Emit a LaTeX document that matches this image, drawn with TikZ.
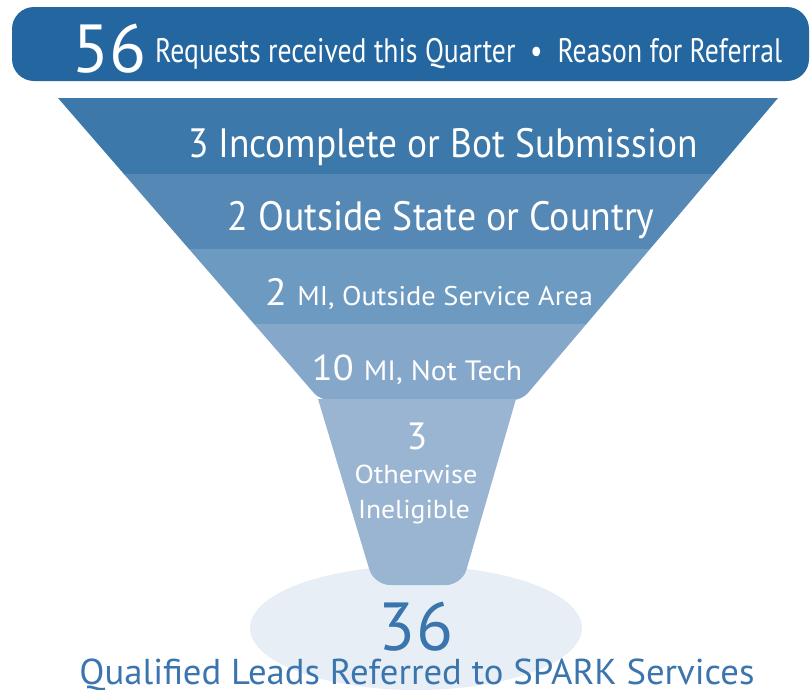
\documentclass[tikz,border=0pt]{standalone}
\usepackage{fontspec}
\setmainfont{PT Sans}
\usepackage{graphicx}
\usetikzlibrary{calc}

\definecolor{bannerblue}{HTML}{2467A0}
\definecolor{bandA}{HTML}{3D78AA}
\definecolor{bandB}{HTML}{5588B5}
\definecolor{bandC}{HTML}{6D9AC1}
\definecolor{bandD}{HTML}{84A7CA}
\definecolor{neckblue}{HTML}{99B5D1}
\definecolor{leadsbg}{HTML}{E8EEF5}
\definecolor{leadsblue}{HTML}{3A75AE}

\newcommand{\fs}[1]{\fontsize{#1}{#1}\selectfont}
\newcommand{\fitw}[2]{\resizebox{#1pt}{\height}{#2}}

\begin{document}
\begin{tikzpicture}[x=1pt, y=-1pt,
    bandtext/.style={anchor=base, text=white, inner sep=0pt},
    leadstext/.style={anchor=base, text=leadsblue, inner sep=0pt}]

    \useasboundingbox (0,0) rectangle (811,689);

    % funnel corners
    \coordinate (TL) at (58,98);
    \coordinate (TR) at (778,98);
    \coordinate (BL) at (320,400);
    \coordinate (BR) at (522,400);

    % header bar
    \fill[bannerblue, rounded corners=22] (12,7) rectangle (809,81);
    \node[bandtext, anchor=base west] (total) at (72,72) {\fs{68}56};
    \node[bandtext, anchor=base west] (header) at (155,62)
        {\fitw{627}{\fs{34}Requests received this Quarter \ \textbullet\ \ Reason for Referral}};

    % qualified leads ellipse
    \fill[leadsbg] (416,628) ellipse [x radius=166, y radius=62];

    % funnel bands
    \foreach \a/\b/\c in {0/0.2517/bandA, 0.2517/0.5/bandB, 0.5/0.7483/bandC}
        \fill[\c] ($(TL)!\a!(BL)$) -- ($(TR)!\a!(BR)$) -- ($(TR)!\b!(BR)$) -- ($(TL)!\b!(BL)$) -- cycle;
    \fill[bandD] ($(TL)!0.7483!(BL)$) -- ($(TR)!0.7483!(BR)$) [rounded corners=9] -- (BR) -- (BL) [sharp corners] -- cycle;

    % neck
    \fill[neckblue] (318,399) [rounded corners=16] -- (374,585) -- (462,585) [sharp corners] -- (516,399) -- cycle;

    % band labels
    \node[bandtext] (bot) at (443,157) {\fitw{510}{\fs{41}3 Incomplete or Bot Submission}};
    \node[bandtext] (state) at (441,230) {\fitw{427}{\fs{41}2 Outside State or Country}};
    \node[bandtext] (area) at (429,305) {\fitw{328}{\fs{38}2 \fs{27}MI, Outside Service Area}};
    \node[bandtext] (tech) at (417,380) {\fitw{210}{\fs{36}10 \fs{28}MI, Not Tech}};
    \node[bandtext] (other) at (417,449) {\fs{38}3};
    \node[bandtext] (otherwise) at (416,483) {\fitw{123}{\fs{26}Otherwise}};
    \node[bandtext] (inelig) at (414,518) {\fitw{112}{\fs{26}Ineligible}};

    % result
    \node[leadstext] (leads) at (416,650) {\fs{68}36};
    \node[leadstext] (leadslabel) at (417,684) {\fitw{675}{\fs{36}Qualified Leads Referred to SPARK Services}};
\end{tikzpicture}
\end{document}
